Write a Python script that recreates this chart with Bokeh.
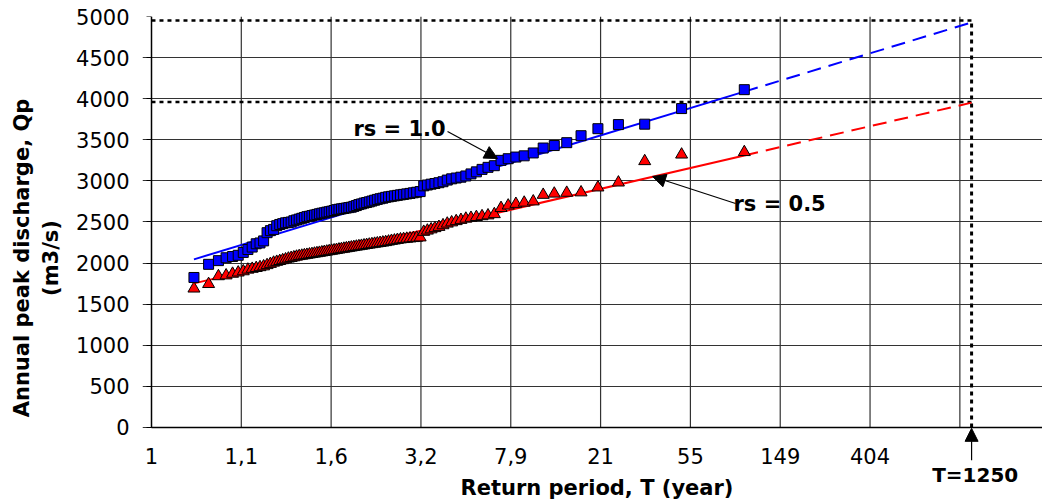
import numpy as np
from bokeh.plotting import figure
from bokeh.models import Range1d, FixedTicker, Label, Arrow, NormalHead, LinearAxis
from bokeh.embed import file_html
from bokeh.resources import INLINE

# ---- data -------------------------------------------------------------
# Annual peak discharges (m3/s), sorted ascending
q_rs10 = [1825, 1985, 2030, 2065, 2080, 2095, 2130, 2165, 2195, 2235,
          2245, 2270, 2370, 2395, 2410, 2455, 2470, 2480, 2490, 2495,
          2500, 2515, 2525, 2535, 2545, 2555, 2565, 2570, 2578, 2585,
          2592, 2600, 2607, 2612, 2620, 2625, 2632, 2640, 2650, 2655,
          2660, 2665, 2670, 2675, 2680, 2690, 2700, 2712, 2720, 2730,
          2737, 2745, 2755, 2765, 2775, 2783, 2790, 2800, 2806, 2812,
          2818, 2824, 2830, 2836, 2842, 2848, 2855, 2862, 2870, 2940,
          2950, 2960, 2968, 2978, 2990, 3010, 3025, 3035, 3045, 3060,
          3085, 3110, 3140, 3165, 3185, 3250, 3270, 3290, 3305, 3340,
          3400, 3430, 3465, 3550, 3635, 3685, 3690, 3880, 4110]
q_rs05 = [1690, 1745, 1840, 1850, 1870, 1885, 1900, 1920, 1930, 1940,
          1950, 1960, 1975, 1990, 2005, 2015, 2025, 2035, 2045, 2055,
          2062, 2070, 2078, 2085, 2090, 2095, 2100, 2105, 2110, 2115,
          2120, 2125, 2130, 2135, 2140, 2145, 2150, 2155, 2160, 2165,
          2170, 2175, 2180, 2185, 2190, 2195, 2200, 2205, 2210, 2215,
          2220, 2225, 2230, 2235, 2240, 2245, 2250, 2255, 2262, 2270,
          2275, 2282, 2288, 2292, 2296, 2300, 2304, 2308, 2312, 2380,
          2395, 2410, 2425, 2440, 2460, 2480, 2495, 2510, 2525, 2540,
          2550, 2560, 2570, 2580, 2595, 2670, 2700, 2720, 2735, 2750,
          2830, 2845, 2855, 2860, 2920, 2980, 3240, 3320, 3350]
# Gumbel fits (location u, scale alpha)
fit_rs10 = (2554, 333)
fit_rs05 = (2141, 254)
T_design = 1250
q_design = [4950, 3960]
tick_pos = [-2, -1, 0, 1, 2, 3, 4, 5, 6]          # Gumbel reduced variate
tick_labels = ["1", "1,1", "1,6", "3,2", "7,9", "21", "55", "149", "404"]
grid_x = [-1, 0, 1, 2, 3, 4, 5, 6, 7]
y_ticks = list(range(0, 5001, 500))
X_MIN, X_MAX = -2, 7.92
Q_MAX = 5000

# ---- Gumbel probability-paper transform --------------------------------
n = len(q_rs10)
rank = np.arange(1, n + 1)
x_pts = -np.log(-np.log(rank / (n + 1.0)))
x_T = -np.log(-np.log(1 - 1.0 / T_design))

FONT = "DejaVu Sans"

# frame extends a little left of the y axis and below Q=0, so that the
# x tick labels and the T=1250 marker (drawn below the axis) are visible
p = figure(width=1042, height=499, x_range=Range1d(-2.1, X_MAX), y_range=Range1d(-876, Q_MAX),
           output_backend="svg", toolbar_location=None,
           min_border_left=142, min_border_right=0, min_border_top=16, min_border_bottom=0)
p.outline_line_color = None
p.background_fill_color = "white"
p.border_fill_color = "white"

# grid
p.xgrid.visible = False
p.ygrid.ticker = FixedTicker(ticks=y_ticks)
p.ygrid.bounds = (X_MIN, X_MAX)
p.ygrid.grid_line_color = "#333333"
p.ygrid.grid_line_width = 1.2
p.segment(x0=grid_x, y0=[0] * len(grid_x), x1=grid_x, y1=[Q_MAX] * len(grid_x),
          line_color="#333333", line_width=1.2)

# x axis (drawn at Q = 0)
xa = p.xaxis[0]
xa.fixed_location = 0
xa.bounds = (X_MIN, X_MAX)
xa.ticker = FixedTicker(ticks=tick_pos)
xa.major_label_overrides = {t: l for t, l in zip(tick_pos, tick_labels)}
xa.major_tick_out = 0
xa.major_tick_in = 0
xa.minor_tick_line_color = None
xa.major_label_standoff = 21
xa.axis_label = "Return period, T (year)"
xa.axis_label_standoff = 8

# y axis: labels in the left panel, line + ticks drawn at x = X_MIN
ya = p.yaxis[0]
ya.ticker = FixedTicker(ticks=y_ticks)
ya.axis_line_color = None
ya.major_tick_line_color = None
ya.major_tick_out = 0
ya.major_tick_in = 0
ya.minor_tick_line_color = None
ya.major_label_standoff = 13
ya.axis_label = "Annual peak discharge, Qp\n(m3/s)"
ya.axis_label_standoff = 10

ya2 = LinearAxis(fixed_location=X_MIN, bounds=(0, Q_MAX), ticker=FixedTicker(ticks=y_ticks),
                 major_tick_out=5, major_tick_in=0, minor_tick_line_color=None,
                 major_label_text_color=None, axis_line_color="black", axis_line_width=1.5,
                 major_tick_line_color="black")
p.add_layout(ya2, "left")

for ax in (xa, ya):
    ax.major_label_text_font = FONT
    ax.major_label_text_font_size = "21px"
    ax.major_label_text_color = "black"
    ax.axis_label_text_font = FONT
    ax.axis_label_text_font_size = "21px"
    ax.axis_label_text_font_style = "bold"
    ax.axis_label_text_color = "black"
xa.axis_line_color = "black"
xa.axis_line_width = 1.5

# design-level dotted lines
for q in q_design:
    p.line([X_MIN, x_T], [q, q], line_color="black", line_width=2.5, line_dash="4 4")
p.line([x_T, x_T], [0, q_design[0]], line_color="black", line_width=3, line_dash="4 4")

# fitted lines
for (u, a), col in ((fit_rs10, "#0000FF"), (fit_rs05, "#FF0000")):
    xs = [x_pts[0], x_pts[-1]]
    p.line(xs, [u + a * v for v in xs], line_color=col, line_width=2)
    xd = [x_pts[-1], x_T]
    p.line(xd, [u + a * v for v in xd], line_color=col, line_width=2, line_dash="14 8")

# observed points
p.scatter(x_pts, q_rs05, marker="triangle", size=12, fill_color="#FF0000", line_color="black", line_width=1)
p.scatter(x_pts, q_rs10, marker="square", size=10, fill_color="#0000FF", line_color="black", line_width=1)

# annotations
def head():
    return NormalHead(size=13, fill_color="black", line_color="black")

p.add_layout(Label(x=0.762, y=3637, text="rs = 1.0", text_font=FONT, text_font_size="21px",
                   text_color="black", text_font_style="bold",
                   text_align="center", text_baseline="middle"))
p.add_layout(Arrow(end=head(), x_start=1.296, y_start=3601, x_end=1.853, y_end=3272,
                   line_color="black", line_width=1.2))
p.add_layout(Label(x=4.993, y=2713, text="rs = 0.5", text_font=FONT, text_font_size="21px",
                   text_color="black", text_font_style="bold",
                   text_align="center", text_baseline="middle"))
p.add_layout(Arrow(end=head(), x_start=4.503, y_start=2725, x_end=3.579, y_end=3053,
                   line_color="black", line_width=1.2))
p.add_layout(Arrow(end=head(), x_start=x_T, y_start=-400, x_end=x_T, y_end=-10,
                   line_color="black", line_width=1.2))
p.add_layout(Label(x=x_T + 0.04, y=-572, text="T=1250", text_font=FONT, text_font_size="20px",
                   text_color="black", text_font_style="bold",
                   text_align="center", text_baseline="middle"))

open("out.html", "w").write(file_html(p, INLINE))
